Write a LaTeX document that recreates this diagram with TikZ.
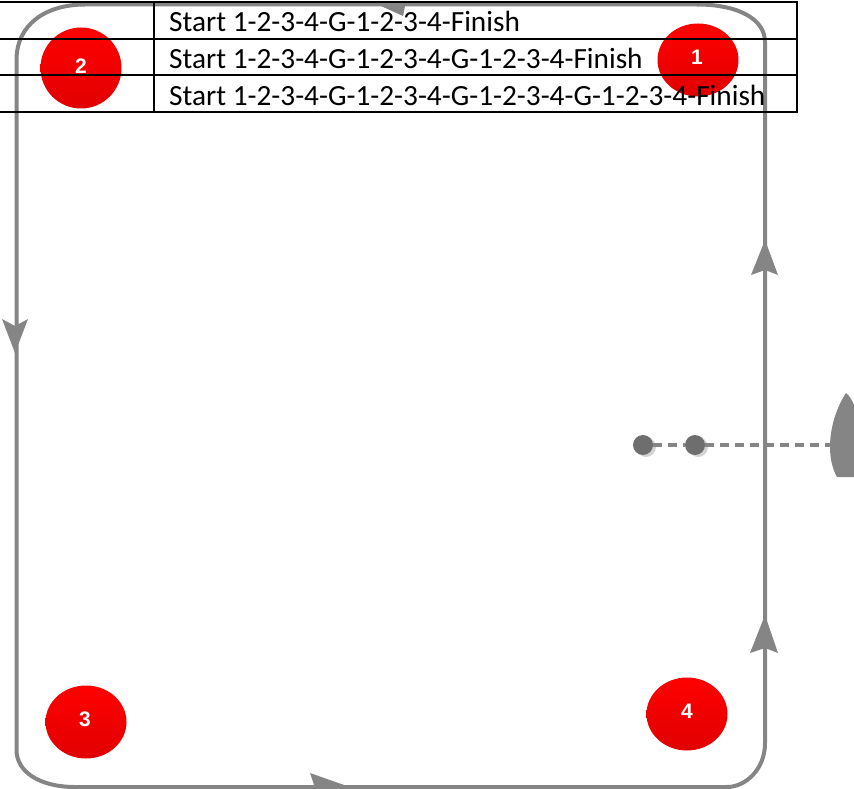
\documentclass[tikz,border=0pt]{standalone}
\usepackage{fontspec}
\setmainfont{Carlito}
\setsansfont{Liberation Sans}
\usetikzlibrary{shapes.geometric}
\definecolor{track}{HTML}{858585}
\definecolor{dotgrey}{HTML}{6E6E6E}
\definecolor{shadowgrey}{HTML}{D4D4D4}
\tikzset{
  buoy/.style={ellipse,inner sep=0pt,top color=red,bottom color=red!88!black},
  numeral/.style={inner sep=0pt,text=white,font=\sffamily\bfseries\fontsize{21}{21}\selectfont},
  trackline/.style={draw=track,line width=4pt},
  arrowhead/.style={fill=track,draw=none},
  rowtext/.style={anchor=west,inner sep=0pt,text=black,font=\fontsize{29.3}{29.3}\selectfont},
  tableline/.style={draw=black,line width=1.7pt},
  startline/.style={draw=track,line width=3.6pt,dash pattern=on 9pt off 6pt},
  startdot/.style={circle,fill=dotgrey,minimum size=20pt,inner sep=0pt},
  dotshadow/.style={circle,fill=shadowgrey,minimum size=20pt,inner sep=0pt},
}
\begin{document}
\begin{tikzpicture}[x=1pt,y=-1pt]
\useasboundingbox (0,0) rectangle (854,789);
\clip (0,0) rectangle (854,789);
% course
\draw[trackline] (16.5,60) .. controls (16.5,25) and (45,4.5) .. (85,4.5) -- (697,4.5)
  .. controls (740,4.5) and (765,20) .. (765,42) -- (765,743)
  .. controls (765,770) and (745,787) .. (727,787) -- (75,787)
  .. controls (40,787) and (16.5,772) .. (16.5,750) -- cycle;
% direction heads
\fill[arrowhead] (372,2) -- (405,6) -- (403,16) -- cycle;
\fill[arrowhead] (2,319) -- (15,326) -- (28,319) -- (15,353) -- cycle;
\fill[arrowhead] (765,240) -- (778,275) -- (765,270) -- (751,275) -- cycle;
\fill[arrowhead] (765,615) -- (778,653) -- (765,648) -- (750,653) -- cycle;
\fill[arrowhead] (310,773) -- (347,786) -- (315,788) -- cycle;
% start line
\node[dotshadow] (s1) at (646,447) {};
\node[dotshadow] (s2) at (698,447) {};
\coordinate (boatedge) at (831,445);
\node[startdot] (d1) at (643,445) {};
\node[startdot] (d2) at (695,445) {};
\draw[startline] (d1) -- (d2);
\draw[startline] (d2) -- (boatedge);
% boat
\fill[track] (846,393) .. controls (838,405) and (830,425) .. (830,447)
  .. controls (830,460) and (833,470) .. (837,477) -- (854,477) -- (854,405) .. controls (852,400) and (849,395) .. (846,393) -- cycle;
% marks
\node[buoy,minimum width=81pt,minimum height=73pt] (m1) at (698,60) {};
\node[buoy,minimum width=81pt,minimum height=81pt] (m2) at (81,68) {};
\node[buoy,minimum width=81pt,minimum height=73pt] (m3) at (86,722) {};
\node[buoy,minimum width=81pt,minimum height=73pt] (m4) at (687,714) {};
\node[numeral] (n1) at (697,57) {1};
\node[numeral] (n2) at (81,66) {2};
\node[numeral] (n3) at (85,719) {3};
\node[numeral] (n4) at (687,711) {4};
% table
\draw[tableline] (0,2) -- (797,2) -- (797,112) -- (0,112);
\draw[tableline] (0,39) -- (797,39);
\draw[tableline] (0,75) -- (797,75);
\draw[tableline] (154,2) -- (154,112);
\node[rowtext] (r1) at (169,21) {Start 1-2-3-4-G-1-2-3-4-Finish};
\node[rowtext] (r2) at (169,58.5) {Start 1-2-3-4-G-1-2-3-4-G-1-2-3-4-Finish};
\node[rowtext] (r3) at (169,95) {Start 1-2-3-4-G-1-2-3-4-G-1-2-3-4-G-1-2-3-4-Finish};
\end{tikzpicture}
\end{document}
